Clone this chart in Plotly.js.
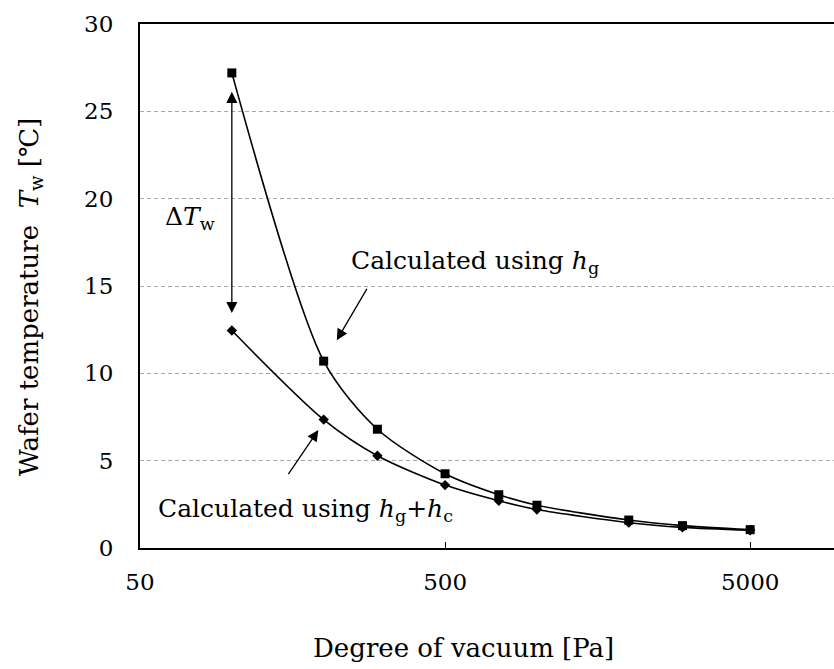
<!DOCTYPE html>
<html>
<head>
<meta charset="utf-8">
<script src="https://cdn.plot.ly/plotly-3.0.1.min.js"></script>
<style>
  html, body { margin: 0; padding: 0; background: #fff; overflow: hidden; }
  #chart { width: 834px; height: 669px; overflow: hidden; }
</style>
</head>
<body>
<div id="chart"></div>
<script>
// Degree of vacuum [Pa]
const pressure = [100, 200, 300, 500, 750, 1000, 2000, 3000, 5000];
// Wafer temperature computed with gas conduction only
const tempHg = [27.2, 10.7, 6.8, 4.25, 3.05, 2.45, 1.6, 1.28, 1.05];
// Wafer temperature computed with gas conduction plus contact conduction
const tempHgHc = [12.45, 7.35, 5.28, 3.6, 2.7, 2.2, 1.45, 1.18, 1.02];

const xTickVals = [50, 500, 5000];
const xTickText = ['50', '500', '5000'];
const yTickVals = [0, 5, 10, 15, 20, 25, 30];

const FONT = 'DejaVu Serif, Liberation Serif, serif';
const lg = v => Math.log10(v);

const traces = [
  {
    x: pressure, y: tempHg, name: 'h_g',
    mode: 'lines+markers',
    line: { color: '#000', width: 1.6, shape: 'spline', smoothing: 0.8 },
    marker: { symbol: 'square', size: 9, color: '#000' },
    cliponaxis: false
  },
  {
    x: pressure, y: tempHgHc, name: 'h_g+h_c',
    mode: 'lines+markers',
    line: { color: '#000', width: 1.6, shape: 'spline', smoothing: 0.8 },
    marker: { symbol: 'diamond', size: 8, color: '#000' },
    cliponaxis: false
  }
];

const arrowStyle = {
  showarrow: true, arrowhead: 2, arrowsize: 1.7, arrowwidth: 1.3,
  arrowcolor: '#000', text: '', axref: 'x', ayref: 'y', xref: 'x', yref: 'y'
};

const layout = {
  width: 870, height: 669,
  margin: { l: 140, r: 28, t: 24, b: 121 },
  paper_bgcolor: '#fff', plot_bgcolor: '#fff',
  showlegend: false,
  font: { family: FONT, color: '#000', size: 23 },
  xaxis: {
    type: 'log',
    range: [lg(50), lg(10000)],
    tickvals: xTickVals, ticktext: xTickText,
    ticks: 'inside', ticklen: 6, tickwidth: 1, tickcolor: '#000',
    showgrid: false, zeroline: false,
    showline: true, linecolor: '#000', linewidth: 2, mirror: true,
    ticklabelstandoff: 12,
    tickfont: { family: FONT, size: 23 }
  },
  yaxis: {
    range: [0, 30],
    tickvals: yTickVals,
    ticks: '', showgrid: true, gridcolor: '#a6a6a6', griddash: '4px,3px', gridwidth: 1,
    zeroline: false,
    showline: true, linecolor: '#000', linewidth: 2, mirror: true,
    ticklabelstandoff: 20,
    tickfont: { family: FONT, size: 23 }
  },
  annotations: [
    // axis titles
    { x: 0.4615, y: -0.191, xref: 'paper', yref: 'paper', xanchor: 'center', yanchor: 'middle',
      showarrow: false, text: 'Degree of vacuum [Pa]', font: { family: FONT, size: 26 } },
    { x: -0.1567, y: 0.479, xref: 'paper', yref: 'paper', xanchor: 'center', yanchor: 'middle',
      showarrow: false, textangle: -90,
      text: 'Wafer temperature  <i>T</i><sub>w</sub> [℃]', font: { family: FONT, size: 26 } },
    // double-headed arrow marking the temperature gap at 100 Pa
    Object.assign({}, arrowStyle, { x: lg(100), y: 13.45, ax: lg(100), ay: 26.2, arrowside: 'end+start' }),
    { x: 1.863, y: 18.9, xref: 'x', yref: 'y', showarrow: false,
      text: 'Δ<i>T</i><sub>w</sub>', font: { family: FONT, size: 25 } },
    // label and pointer for the h_g curve
    { x: 2.384, y: 16.4, xref: 'x', yref: 'y', xanchor: 'left', showarrow: false,
      text: 'Calculated using <i>h</i><sub>g</sub>', font: { family: FONT, size: 25 } },
    Object.assign({}, arrowStyle, { x: 2.344, y: 11.9, ax: 2.4456, ay: 14.92 }),
    // label and pointer for the h_g+h_c curve
    { x: 1.7515, y: 2.2, xref: 'x', yref: 'y', xanchor: 'left', showarrow: false,
      text: 'Calculated using <i>h</i><sub>g</sub>+<i>h</i><sub>c</sub>', font: { family: FONT, size: 25 } },
    Object.assign({}, arrowStyle, { x: 2.2836, y: 6.75, ax: 2.182, ay: 4.14 })
  ]
};

Plotly.newPlot('chart', traces, layout, { staticPlot: true, displayModeBar: false });
</script>
</body>
</html>
